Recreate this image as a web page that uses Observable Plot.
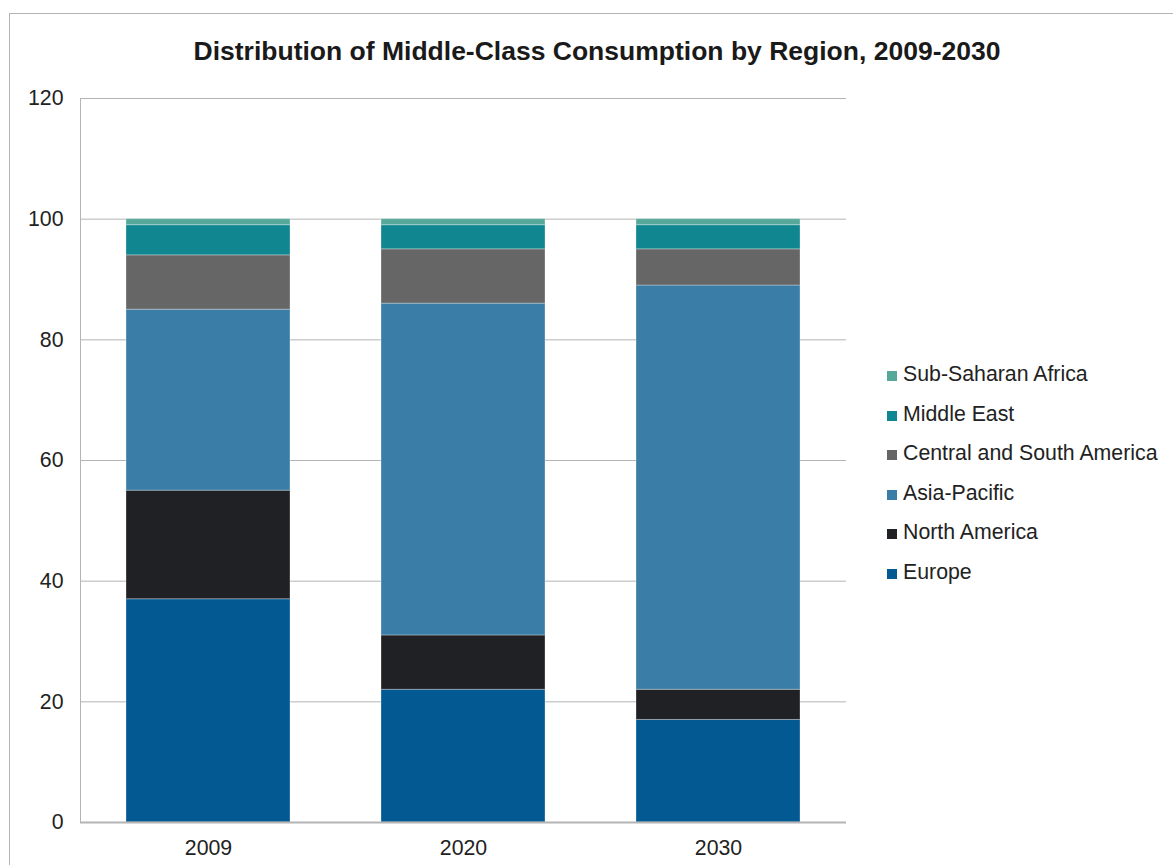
<!DOCTYPE html>
<html>
<head>
<meta charset="utf-8">
<script src="https://cdn.jsdelivr.net/npm/d3@7"></script>
<script src="https://cdn.jsdelivr.net/npm/@observablehq/plot@0.6"></script>
<style>
  html, body { margin: 0; padding: 0; background: #fff; }
  body { width: 1173px; height: 865px; position: relative; overflow: hidden; font-family: "Liberation Sans", Arial, sans-serif; }
  #frame { position: absolute; left: 9px; top: 13px; width: 1180px; height: 880px; border: 1px solid #b4b4b4; box-sizing: border-box; }
  #title { position: absolute; left: 0; top: 36px; width: 1194px; text-align: center; font-weight: bold; font-size: 26.5px; color: #1a1a1a; }
  #chart { position: absolute; left: 0; top: 0; }
  #legend { position: absolute; left: 887px; top: 362px; font-size: 21.3px; color: #222; }
  .item { height: 39.6px; display: flex; align-items: flex-start; }
  .sw { width: 10px; height: 10px; margin-top: 9px; margin-right: 6px; flex: none; }
</style>
</head>
<body>
<div id="frame"></div>
<div id="title">Distribution of Middle-Class Consumption by Region, 2009-2030</div>
<div id="chart"></div>
<div id="legend"></div>
<script>
const years = ["2009", "2020", "2030"];
const regions = ["Europe", "North America", "Asia-Pacific", "Central and South America", "Middle East", "Sub-Saharan Africa"];
const europe = [37, 22, 17];
const northAmerica = [18, 9, 5];
const asiaPacific = [30, 55, 67];
const centralSouthAmerica = [9, 9, 6];
const middleEast = [5, 4, 4];
const subSaharanAfrica = [1, 1, 1];
const yTicks = [0, 20, 40, 60, 80, 100, 120];
const colors = ["#035a93", "#202124", "#3a7ea8", "#666666", "#0f8690", "#55a89a"];

const series = [europe, northAmerica, asiaPacific, centralSouthAmerica, middleEast, subSaharanAfrica];
const data = [];
regions.forEach((r, i) => years.forEach((y, j) => data.push({year: y, region: r, value: series[i][j]})));

const chart = Plot.plot({
  width: 1173,
  height: 865,
  marginLeft: 80,
  marginRight: 327,
  marginTop: 98,
  marginBottom: 43,
  style: {fontFamily: "'Liberation Sans', Arial, sans-serif", fontSize: "21.3px", color: "#222", background: "transparent"},
  x: {domain: years, paddingInner: 0.355, paddingOuter: 0.1775, label: null},
  y: {domain: [0, 120], ticks: yTicks, label: null},
  color: {domain: regions, range: colors},
  marks: [
    Plot.gridY(yTicks, {stroke: "#b4b4b4", strokeOpacity: 1, strokeWidth: 1}),
    Plot.barY(data, {x: "year", y: "value", fill: "region", stroke: "white", strokeOpacity: 0.3, strokeWidth: 1}),
    Plot.frame({anchor: "left", stroke: "#b4b4b4", strokeWidth: 1}),
    Plot.axisY(yTicks, {tickSize: 0, tickPadding: 17, label: null, fill: "#222", fontSize: 21.3}),
    Plot.axisX({tickSize: 0, tickPadding: 17, label: null, fill: "#222", fontSize: 21.3}),
    Plot.ruleY([0], {stroke: "#b4b4b4", strokeWidth: 2})
  ]
});
document.getElementById("chart").appendChild(chart);

// legend: top entry is last series
const legend = document.getElementById("legend");
regions.slice().reverse().forEach((r) => {
  const i = regions.indexOf(r);
  const div = document.createElement("div");
  div.className = "item";
  div.innerHTML = `<span class="sw" style="background:${colors[i]}"></span><span>${r}</span>`;
  legend.appendChild(div);
});
</script>
</body>
</html>
